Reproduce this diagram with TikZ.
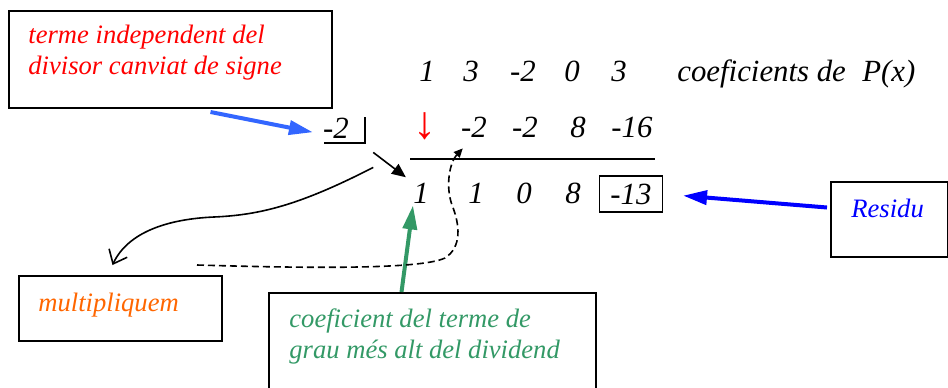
\documentclass[tikz,border=0pt]{standalone}
\usepackage{fontspec}
\setmainfont{Liberation Serif}
\usetikzlibrary{arrows.meta}
\definecolor{signblue}{HTML}{3366FF}
\definecolor{leadgreen}{HTML}{339966}
\definecolor{multorange}{HTML}{FF6600}
\begin{document}
\begin{tikzpicture}[x=0.5pt,y=-0.5pt,
  coef/.style={anchor=base,inner sep=1pt,font=\fontsize{15.4}{18}\selectfont\itshape},
  note/.style={anchor=base west,inner sep=0pt,align=left,font=\fontsize{13.3}{15.5}\selectfont\itshape},
  box/.style={draw,line width=1pt,anchor=north west,inner sep=0pt},
  fat/.style={line width=2pt,-{Triangle[length=12pt,width=7pt]}}]
\useasboundingbox (0,0) rectangle (948,387);

% boxes and their texts
\node[box,minimum width=161.5pt,minimum height=48.5pt] (indepbox) at (8,10) {};
\node[note,text=red] (indeptext) at (28,74) {terme independent del\\divisor canviat de signe};
\node[box,minimum width=101.5pt,minimum height=32.5pt] (multbox) at (18,275) {};
\node[note,text=multorange] (multtext) at (38,311) {multipliquem};
\node[box,minimum width=163.5pt,minimum height=50pt] (leadbox) at (268,292) {};
\node[note,text=leadgreen] (leadtext) at (289,358) {coeficient del terme de\\grau més alt del dividend};
\node[box,minimum width=58.5pt,minimum height=37.5pt] (resbox) at (830,181) {};
\node[note,text=blue] (restext) at (851,217) {Residu};

% first row
\node[coef] (p1) at (427,81) {1};
\node[coef] (p2) at (471,81) {3};
\node[coef] (p3) at (523,81) {-2};
\node[coef] (p4) at (572,81) {0};
\node[coef] (p5) at (619,81) {3};
\node[coef,anchor=base west] (ptext) at (675,81) {coeficients de};
\node[coef,anchor=base west] (pname) at (860,81) {P(x)};

% second row
\node[coef] (div) at (336,138) {-2};
\draw[line width=0.7pt] (324,143) -- (365,143) -- (365,117);
\node[coef,font=\fontsize{23}{24}\selectfont,text=red] (down) at (425,138) {↓};
\node[coef] (m1) at (474,137) {-2};
\node[coef] (m2) at (525,137) {-2};
\node[coef] (m3) at (578,137) {8};
\node[coef] (m4) at (632,137) {-16};
\draw[line width=0.7pt] (410,159) -- (655,159);

% third row
\node[coef] (lead) at (421,203) {1};
\node[coef] (q2) at (476,203) {1};
\node[coef] (q3) at (524,203) {0};
\node[coef] (q4) at (573,203) {8};
\node[coef,draw,line width=0.6pt,minimum width=31.5pt,minimum height=18pt,anchor=center] (rem) at (631,194) {-13};

% arrows
\draw[signblue,fat,shorten >=4pt] ([shift={(20pt,-1.5pt)}]indepbox.south) -- ([yshift=-3pt]div.west);
\draw[blue,fat,shorten >=10pt] ([shift={(-1.5pt,6pt)}]resbox.west) -- (rem.east);
\draw[leadgreen,fat] ([xshift=-15.5pt]leadbox.north) -- ([xshift=-4pt]lead.south);
\draw[line width=0.8pt,-{Triangle[length=7pt,width=6pt]}] ([shift={(11pt,-6pt)}]div.south east) -- ([shift={(-2.5pt,1.5pt)}]lead.north west);
\draw[line width=0.8pt,-{Straight Barb[length=6pt,width=10pt]}] ([shift={(11pt,-13.5pt)}]div.south east)
  .. controls (300,205) and (260,215) .. (214,217)
  .. controls (168,219) and (128,232) .. ([shift={(-4pt,5pt)}]multbox.north);
\draw[line width=0.8pt,dash pattern=on 3.5pt off 2pt,-{Triangle[length=4.5pt,width=4pt]}] ([shift={(-13pt,5pt)}]multbox.north east)
  .. controls (300,268) and (420,270) .. (445,258)
  .. controls (462,247) and (460,225) .. (452,205)
  .. controls (445,185) and (450,162) .. ([shift={(2pt,-4.5pt)}]m1.south west);
\end{tikzpicture}
\end{document}
